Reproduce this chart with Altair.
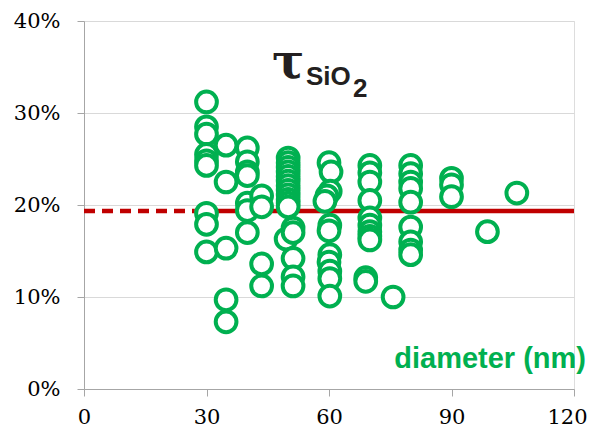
import altair as alt
import pandas as pd

# diameter (nm) and tau_SiO2 (%)
diam = [30, 30, 30, 30, 30, 30, 30, 30, 30,
        34.8, 34.8, 34.8, 34.8, 34.8,
        40, 40, 40, 40, 40, 40, 40,
        43.5, 43.5, 43.5, 43.5,
        50, 50, 50, 50, 50, 50, 50, 50, 50, 50, 50, 50,
        49.5,
        51.2, 51.2, 51.2, 51.2, 51.2,
        60, 60.5, 60.3, 59.5, 59, 60.2, 60, 60.2, 60, 60.2, 60.2, 60.2,
        70, 70, 70, 70, 70, 70, 70, 70, 70,
        69, 69,
        75.7,
        80, 80, 80, 80, 80, 80, 80, 80, 80,
        90, 90, 90,
        98.8,
        106]
tau = [31.2, 28.5, 27.7, 25.5, 24.8, 24.3, 19.1, 17.9, 14.9,
       26.5, 22.5, 15.3, 9.7, 7.3,
       26.2, 24.7, 23.6, 23.2, 20.2, 19.4, 17.0,
       21.0, 19.8, 13.6, 11.2,
       25.1, 24.6, 24.1, 23.6, 23.1, 22.6, 22.1, 21.6, 21.1, 20.6, 20.2, 19.8,
       16.3,
       17.5, 17.0, 14.2, 12.2, 11.2,
       24.6, 23.6, 21.5, 21.0, 20.4, 17.8, 17.2, 14.6, 13.8, 12.8, 12.0, 10.1,
       24.3, 23.5, 22.5, 20.5, 18.6, 17.8, 17.1, 16.6, 16.2,
       12.1, 11.7,
       10.0,
       24.3, 23.4, 22.5, 21.8, 20.3, 17.6, 16.0, 15.1, 14.6,
       22.9, 22.2, 20.9,
       17.1,
       21.3]

mean_level = 19.35
dash_x = [0, 27]
solid_x = [27, 120]
x_ticks = [0, 30, 60, 90, 120]
y_ticks = [0, 10, 20, 30, 40]

GREEN = "#00B050"
RED = "#C00000"
SERIF = "DejaVu Serif"
SANS = "Liberation Sans"

pts = pd.DataFrame({"d": diam, "t": tau})
dash_df = pd.DataFrame({"x": [dash_x[0]], "x2": [dash_x[1]], "y": [mean_level]})
solid_df = pd.DataFrame({"x": [solid_x[0]], "x2": [solid_x[1]], "y": [mean_level]})

xs = alt.Scale(domain=[0, 120], nice=False, zero=True)
ys = alt.Scale(domain=[0, 40], nice=False)

xaxis = alt.Axis(values=x_ticks, title=None, grid=False, domainColor="#A6A6A6",
                 tickColor="#A6A6A6", tickSize=7, labelFont=SERIF, labelFlush=False,
                 labelFontSize=21, labelColor="#000000", labelPadding=10,
                 labelAlign=alt.condition("datum.value == 120", alt.value("right"), alt.value("center")),
                 labelOffset=alt.condition("datum.value == 120", alt.value(13), alt.value(0)))
yaxis = alt.Axis(values=y_ticks, title=None, grid=True, gridColor="#D9D9D9",
                 domainColor="#A6A6A6", tickColor="#A6A6A6", tickSize=7,
                 labelFont=SERIF, labelFontSize=21, labelColor="#000000", labelFlush=False,
                 labelPadding=17, labelExpr="datum.value + '%'")

dash = alt.Chart(dash_df).mark_rule(color=RED, strokeWidth=4.5, strokeDash=[11, 7]).encode(
    x=alt.X("x:Q", scale=xs, axis=xaxis), x2="x2:Q", y=alt.Y("y:Q", scale=ys, axis=yaxis))
solid = alt.Chart(solid_df).mark_rule(color=RED, strokeWidth=4.5).encode(
    x=alt.X("x:Q", scale=xs, axis=xaxis), x2="x2:Q", y=alt.Y("y:Q", scale=ys, axis=yaxis))

circles = alt.Chart(pts).mark_point(shape="circle", size=430, filled=False,
                                    fill="white", fillOpacity=1, stroke=GREEN,
                                    strokeWidth=4, opacity=1).encode(
    x=alt.X("d:Q", scale=xs, axis=xaxis), y=alt.Y("t:Q", scale=ys, axis=yaxis))

tau_txt = alt.Chart(pd.DataFrame({"s": ["τ"]})).mark_text(
    font=SERIF, fontSize=48, fontWeight="bold", color="#231F20",
    align="left", baseline="alphabetic").encode(
    text="s:N", x=alt.value(188), y=alt.value(57))
sio_txt = alt.Chart(pd.DataFrame({"s": ["SiO"]})).mark_text(
    font=SANS, fontSize=26, fontWeight="bold", color="#231F20",
    align="left", baseline="alphabetic").encode(
    text="s:N", x=alt.value(222), y=alt.value(64))
two_txt = alt.Chart(pd.DataFrame({"s": ["2"]})).mark_text(
    font=SANS, fontSize=26, fontWeight="bold", color="#231F20",
    align="left", baseline="alphabetic").encode(
    text="s:N", x=alt.value(269), y=alt.value(76))
diam_txt = alt.Chart(pd.DataFrame({"s": ["diameter (nm)"]})).mark_text(
    font=SANS, fontSize=29, fontWeight="bold", color=GREEN,
    align="right", baseline="alphabetic").encode(
    text="s:N", x=alt.value(502), y=alt.value(347))

chart = alt.layer(dash, solid, circles, tau_txt, sio_txt, two_txt, diam_txt).properties(
    width=490, height=368,
    autosize=alt.AutoSizeParams(type="none"),
    padding={"left": 76, "top": 13, "right": 13, "bottom": 43},
).configure_view(stroke=None).configure_axis(
    labelFont=SERIF, labelColor="#000000"
).configure(background="white")

chart.save("out.html", embed_options={"renderer": "svg", "actions": False})
